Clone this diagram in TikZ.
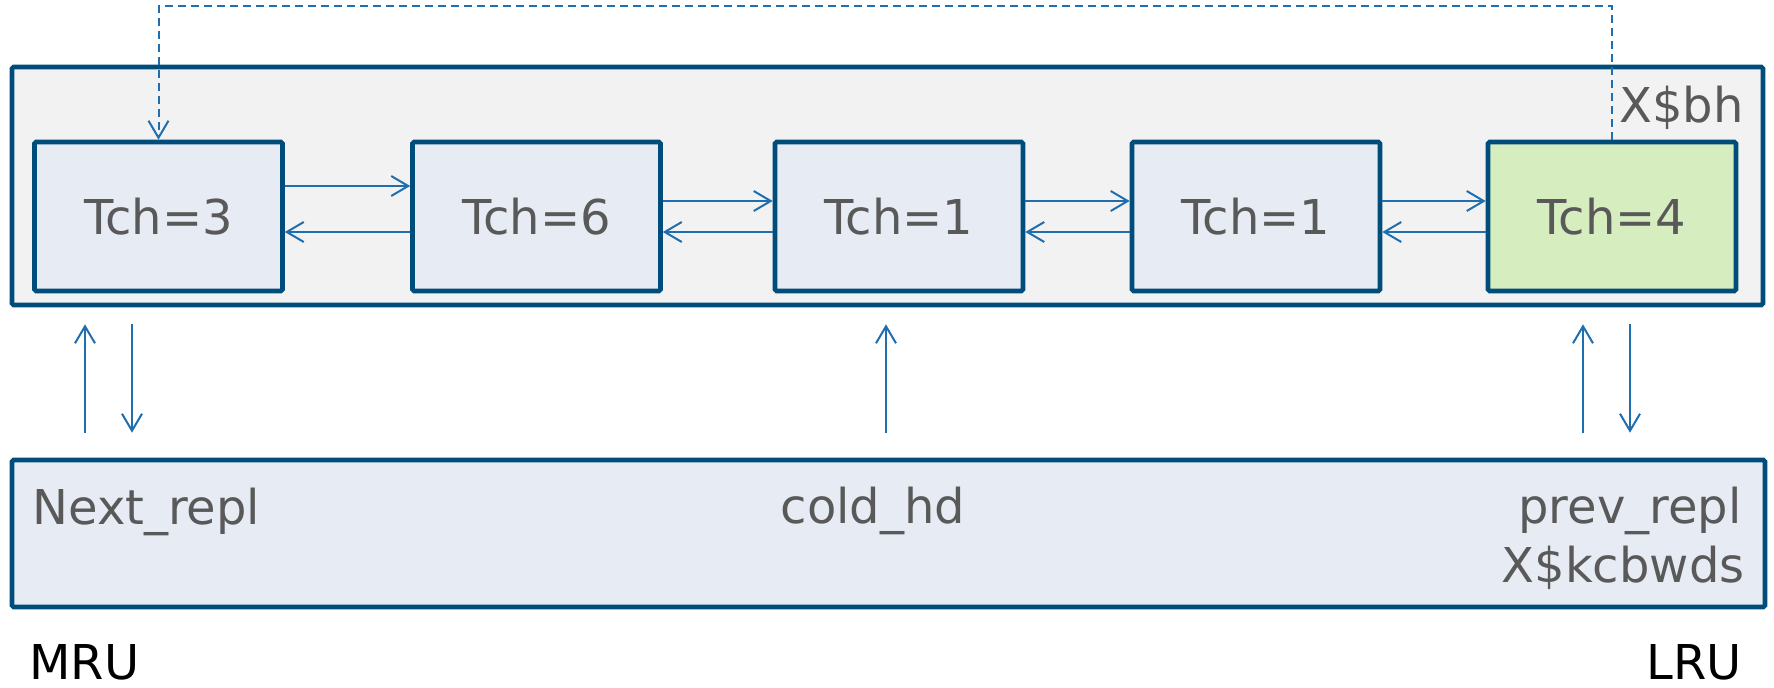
\documentclass[tikz,border=0pt]{standalone}
\usepackage{fontspec}
\setmainfont{DejaVu Sans}
\usetikzlibrary{arrows.meta}
\definecolor{bordc}{HTML}{004C7A}
\definecolor{arrc}{HTML}{1F6FB0}
\definecolor{txtc}{HTML}{595959}
\definecolor{outfill}{HTML}{F2F2F2}
\definecolor{infill}{HTML}{E6EBF4}
\definecolor{grfill}{HTML}{D5EDBF}
\tikzset{
  bigfont/.style={font=\fontsize{24}{29}\selectfont},
  cellbox/.style={draw=bordc, line width=2.3pt, fill=infill, rectangle, rounded corners=0.8pt,
    minimum width=124pt, minimum height=74.5pt, inner sep=0pt, text=txtc, bigfont},
  outerbox/.style={draw=bordc, line width=2.3pt, rectangle, rounded corners=0.8pt, inner sep=0pt},
  arr/.style={draw=arrc, line width=1pt, -{Straight Barb[length=8.5pt,width=10pt,line width=1pt]}},
  dasharr/.style={arr, dash pattern=on 4pt off 2.5pt},
  lbl/.style={inner sep=0pt, text=txtc, bigfont},
  blk/.style={inner sep=0pt, text=black, bigfont}
}
\begin{document}
\begin{tikzpicture}[x=0.5pt, y=-0.5pt]
\useasboundingbox (0,0) rectangle (1774,687);
% outer boxes
\node[outerbox, fill=outfill, minimum width=875.5pt, minimum height=119pt] (top) at (887.5,186) {};
\node[outerbox, fill=infill, minimum width=876.5pt, minimum height=73.5pt] (bot) at (888.5,533.5) {};
% cells
\node[cellbox] (b1) at (158.5,216.5) {Tch=3};
\node[cellbox] (b2) at (536.5,216.5) {Tch=6};
\node[cellbox] (b3) at (899,216.5) {Tch=1};
\node[cellbox] (b4) at (1256,216.5) {Tch=1};
\node[cellbox, fill=grfill] (b5) at (1612,216.5) {Tch=4};
% horizontal arrows
\draw[arr] ([yshift=15.25pt]b1.east) -- ([yshift=15.25pt]b1.east -| b2.west);
\draw[arr] ([yshift=-7.75pt]b2.west) -- ([yshift=-7.75pt]b2.west -| b1.east);
\foreach \a/\b in {b2/b3,b3/b4,b4/b5}{
  \draw[arr] ([yshift=7.75pt]\a.east) -- ([yshift=7.75pt]\a.east -| \b.west);
  \draw[arr] ([yshift=-7.75pt]\b.west) -- ([yshift=-7.75pt]\b.west -| \a.east);
}
% dashed loop
\coordinate (dtop) at (0,6);
\draw[dasharr] (b5.north) -- (b5.north |- dtop) -- (b1.north |- dtop) -- (b1.north);
% vertical arrows
\coordinate (xa) at (85,0);
\coordinate (xb) at (132,0);
\coordinate (xc) at (886,0);
\coordinate (xd) at (1583,0);
\coordinate (xe) at (1630,0);
\foreach \c in {xa,xc,xd}{
  \draw[arr, shorten <=12.5pt, shorten >=8.5pt] (bot.north -| \c) -- (top.south -| \c);
}
\foreach \c in {xb,xe}{
  \draw[arr, shorten <=8.5pt, shorten >=12.5pt] (top.south -| \c) -- (bot.north -| \c);
}
% labels
\node[lbl, anchor=base east] (xbh) at (1744,122) {X\$bh};
\node[lbl, anchor=base west] (nr) at (32,524) {Next\_repl};
\node[lbl, anchor=base] (ch) at (873,523) {cold\_hd};
\node[lbl, anchor=base east] (pr) at (1742,523) {prev\_repl};
\node[lbl, anchor=base east] (xk) at (1745,582) {X\$kcbwds};
\node[blk, anchor=base west] (mru) at (29,679) {MRU};
\node[blk, anchor=base east] (lru) at (1742,679) {LRU};
\end{tikzpicture}
\end{document}
